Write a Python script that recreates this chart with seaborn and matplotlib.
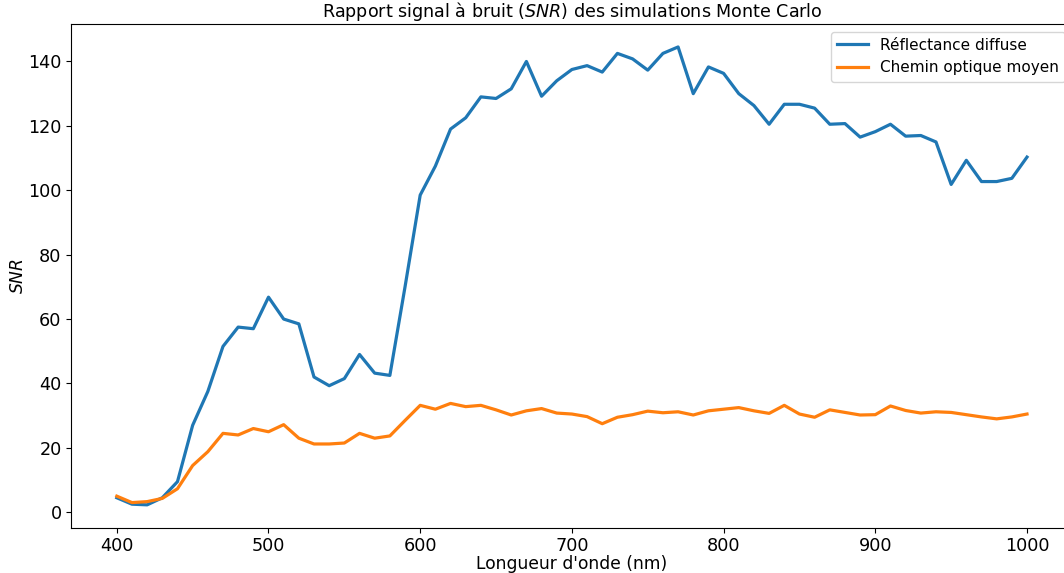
import numpy as np
import pandas as pd
import matplotlib
matplotlib.use("Agg")
import matplotlib.pyplot as plt
import seaborn as sns

wavelengths = list(range(400, 1001, 10))

reflectance = [
    4.5, 2.5, 2.3, 4.5, 9.5, 27.0, 37.5, 51.5, 57.5, 57.0,
    66.8, 60.0, 58.5, 42.0, 39.3, 41.5, 49.0, 43.2, 42.5, 70.0,
    98.5, 107.5, 119.0, 122.5, 129.0, 128.5, 131.5, 140.0, 129.2, 134.0,
    137.5, 138.7, 136.7, 142.5, 140.8, 137.3, 142.5, 144.5, 130.0, 138.3,
    136.3, 130.0, 126.3, 120.5, 126.7, 126.7, 125.5, 120.5, 120.7, 116.5,
    118.2, 120.5, 116.8, 117.0, 115.0, 101.8, 109.3, 102.7, 102.7, 103.7,
    110.3,
]

optical_path = [
    5.0, 3.0, 3.3, 4.3, 7.3, 14.5, 18.8, 24.5, 24.0, 26.0,
    25.0, 27.2, 23.0, 21.2, 21.2, 21.5, 24.5, 23.0, 23.7, 28.5,
    33.2, 32.0, 33.8, 32.8, 33.2, 31.8, 30.2, 31.5, 32.2, 30.8,
    30.5, 29.7, 27.5, 29.5, 30.3, 31.4, 30.9, 31.2, 30.2, 31.5,
    32.0, 32.5, 31.5, 30.7, 33.2, 30.5, 29.5, 31.8, 31.0, 30.2,
    30.3, 33.0, 31.6, 30.8, 31.2, 31.0, 30.3, 29.6, 29.0, 29.6,
    30.5,
]

series_names = ["Réflectance diffuse", "Chemin optique moyen"]

df = pd.DataFrame({
    "wavelength": wavelengths * 2,
    "snr": reflectance + optical_path,
    "serie": [series_names[0]] * len(wavelengths) + [series_names[1]] * len(wavelengths),
})

fig = plt.figure(figsize=(10.64, 5.73), dpi=100)
ax = fig.add_axes([0.067, 0.079, 0.941, 0.879])

sns.lineplot(data=df, x="wavelength", y="snr", hue="serie",
             palette=["#1f77b4", "#ff7f0e"], linewidth=2.3, ax=ax)

ax.set_title("Rapport signal à bruit ($SNR$) des simulations Monte Carlo", fontsize=12.6, pad=5)
ax.set_xlabel("Longueur d'onde (nm)", fontsize=12.3, labelpad=0)
ax.set_ylabel("$SNR$", fontsize=12.3, labelpad=1)
ax.tick_params(labelsize=12.7)

handles, labels = ax.get_legend_handles_labels()
ax.legend(handles, labels, loc="upper right", fontsize=11)

fig.savefig("out.png", dpi=100)
